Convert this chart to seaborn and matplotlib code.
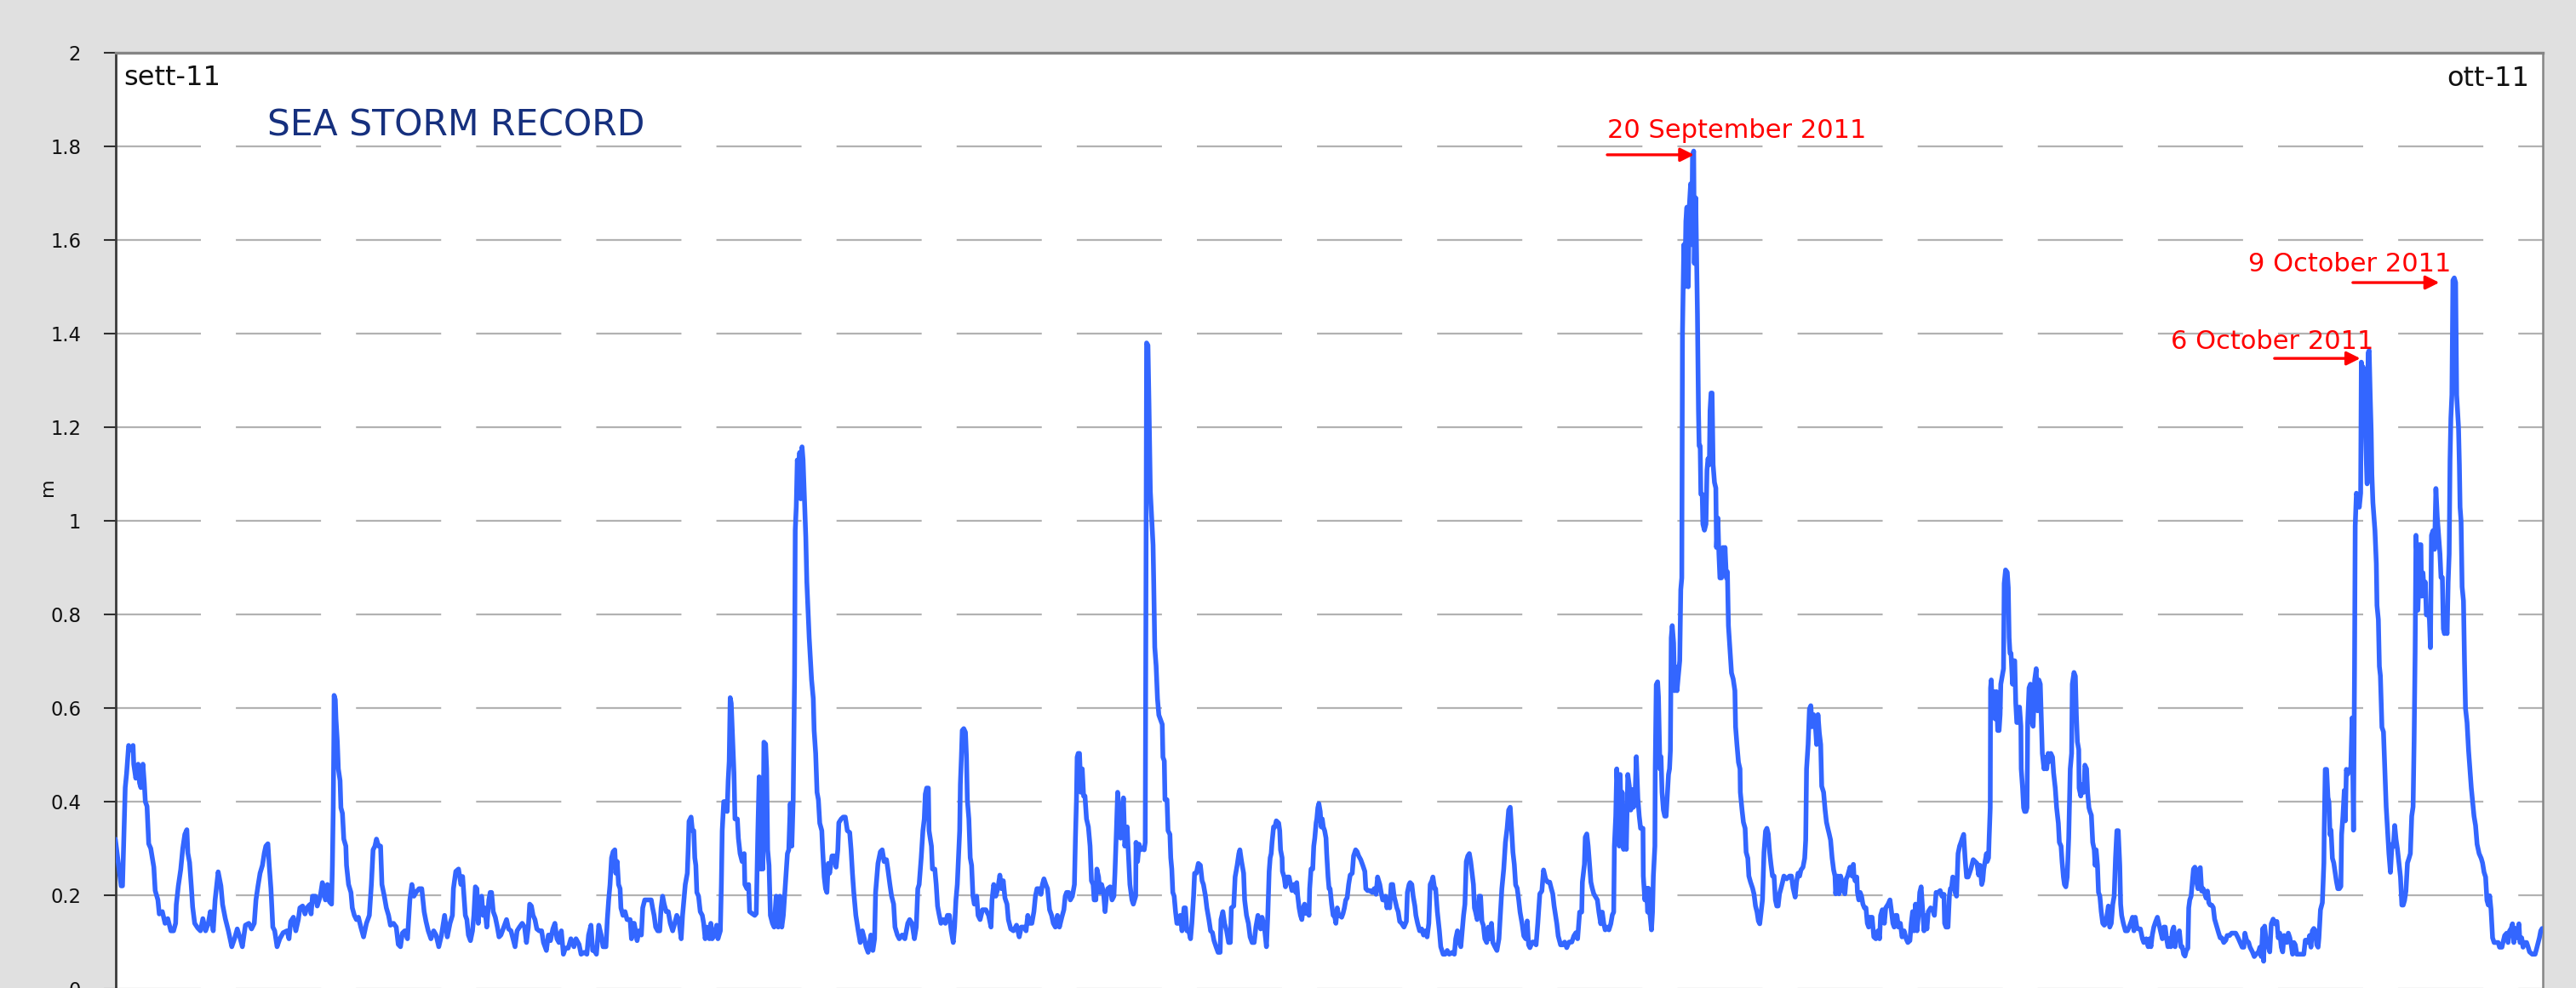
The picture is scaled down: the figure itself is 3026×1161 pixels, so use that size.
import numpy as np
import pandas as pd
import matplotlib
matplotlib.use("Agg")
import matplotlib.pyplot as plt
import seaborn as sns

# ---------------- data: (hours from start of record, sea level in m) ----------------
part1 = [(0.0,0.32),(1.7,0.22),(2.1,0.22),(2.9,0.43),(3.3,0.46),(3.9,0.52),(4.6,0.51),(5.2,0.52),(5.4,0.48),(6.0,0.45),
 (6.7,0.48),(7.1,0.44),(7.5,0.43),(8.1,0.48),(8.5,0.44),(8.8,0.40),(9.3,0.39),(9.8,0.31),(10.4,0.30),(11.3,0.26),
 (11.7,0.21),(12.5,0.19),(12.9,0.16),(13.8,0.165),(14.6,0.14),(15.4,0.15),(16.3,0.124),(17.1,0.124),(17.7,0.14),(17.9,0.18),
 (18.5,0.22),(19.2,0.255),(19.8,0.30),(20.4,0.33),(21.0,0.34),(21.3,0.29),(21.8,0.27),(22.3,0.22),(22.7,0.175),(23.3,0.14),
 (24.2,0.13),(25.0,0.124),(25.7,0.15),(26.5,0.124),(27.3,0.14),(27.9,0.165),(28.75,0.124),(29.3,0.19),(30.2,0.25),(31.0,0.22),
 (31.5,0.18),(32.3,0.15),(33.2,0.124),(34.2,0.09),(35.0,0.107),(35.8,0.128),(36.7,0.107),(37.3,0.09),(38.2,0.136),(39.2,0.14),
 (40.0,0.128),(40.8,0.14),(41.3,0.19),(41.9,0.22),(42.5,0.247),(43.2,0.264),(43.75,0.29),(44.2,0.305),(44.8,0.31),(45.2,0.264),
 (45.7,0.214),(46.25,0.132),(46.8,0.124),(47.5,0.09),(48.3,0.107),(49.3,0.12),(50.4,0.124),(51.0,0.107),(51.5,0.144),(52.3,0.153),
 (53.0,0.124),(53.75,0.148),(54.2,0.173),(55.0,0.177),(55.7,0.16),(56.25,0.173),(57.1,0.18),(57.5,0.16),(57.9,0.198),(58.75,0.198),
 (59.3,0.177),(60.2,0.198),(60.8,0.227),(61.7,0.19),(62.3,0.223),(62.9,0.186),(63.5,0.181),(63.75,0.264),(64.0,0.387),(64.2,0.552),
 (64.25,0.627),(64.6,0.618),(64.8,0.577),(65.2,0.528),(65.5,0.47),(66.0,0.445),(66.25,0.387),(66.7,0.375),(67.1,0.32),(67.7,0.305),
 (67.9,0.264),(68.5,0.223),(69.2,0.206),(69.6,0.173),(70.2,0.157),(70.8,0.148),(71.4,0.153),(72.1,0.132),(72.9,0.111),(73.75,0.14),
 (74.6,0.157),(75.2,0.223),(75.7,0.297),(76.25,0.305),(76.7,0.32),(77.3,0.305),(77.9,0.305),(78.3,0.223),(79.0,0.198),(79.6,0.173),
 (80.25,0.157),(80.8,0.136),(81.7,0.14),(82.5,0.132),(83.1,0.095),(83.75,0.09),(84.3,0.119),(85.0,0.124),(85.8,0.107),(86.5,0.19),
 (87.1,0.223),(87.7,0.198),(88.3,0.206),(89.2,0.214),(90.0,0.214),(90.7,0.165),(91.25,0.144),(91.9,0.124),(92.7,0.107),(93.5,0.124),
 (94.2,0.115),(95.0,0.09),(95.8,0.115),(96.7,0.157),(97.5,0.111),(98.3,0.14),(99.0,0.157),(99.3,0.214),(100.0,0.251),(100.8,0.256),
 (101.5,0.223)]

part2 = [(102.0,0.24),(102.4,0.198),(102.8,0.157),(103.25,0.148),(103.7,0.115),(104.3,0.103),(104.9,0.124),(105.3,0.157),(105.75,0.218),
 (106.2,0.214),(106.6,0.14),(107.0,0.19),(107.6,0.198),(108.0,0.157),(108.5,0.173),(109.1,0.132),(109.7,0.19),(110.1,0.206),(110.5,0.206),
 (111.0,0.165),(111.6,0.153),(112.2,0.132),(112.7,0.111),(113.25,0.115),(114.1,0.132),(114.9,0.148),(115.5,0.128),(116.2,0.124),(116.8,0.107),
 (117.4,0.09),(118.0,0.124),(118.7,0.132),(119.5,0.14),(120.2,0.132),(120.75,0.099),(121.3,0.132),(121.7,0.181),(122.2,0.177),(122.7,0.157),
 (123.25,0.148),(123.8,0.128),(124.5,0.124),(125.2,0.124),(125.75,0.099),(126.6,0.082),(127.2,0.115),(127.8,0.103),(128.5,0.128),(129.1,0.14),
 (129.7,0.107),(130.3,0.099),(131.0,0.124),(131.6,0.074),(132.2,0.087),(133.0,0.087),(133.8,0.107),(134.7,0.09),(135.3,0.107),(136.2,0.095),
 (136.8,0.074),(137.7,0.078),(138.5,0.074),(139.0,0.115),(139.7,0.136),(140.2,0.082),(140.75,0.082),(141.3,0.074),(142.0,0.136),(142.7,0.115),
 (143.25,0.09),(144.1,0.09),(144.5,0.148),(144.9,0.19),(145.3,0.223),(145.75,0.28),(146.2,0.293),(146.7,0.297),(147.0,0.247),(147.4,0.272),
 (147.8,0.223),(148.25,0.214),(148.5,0.173),(149.1,0.157),(149.7,0.165),(150.3,0.148),(151.2,0.148),(151.6,0.107),(152.0,0.14),(152.4,0.14),
 (152.8,0.124),(153.25,0.103),(153.8,0.124),(154.5,0.115),(154.9,0.173),(155.5,0.19),(156.6,0.19),(157.4,0.19),(157.8,0.173),(158.25,0.157),
 (158.7,0.132),(159.3,0.124),(159.9,0.124),(160.3,0.173),(160.75,0.198),(161.2,0.181),(161.8,0.165),(162.4,0.165),(163.0,0.14),(163.7,0.124),
 (164.3,0.14),(164.9,0.157),(165.5,0.148),(166.2,0.107),(166.6,0.157),(167.0,0.19),(167.4,0.223),(168.0,0.247),(168.25,0.297),(168.5,0.358),
 (169.1,0.367),(169.5,0.338),(169.9,0.338),(170.2,0.28),(170.5,0.264),(170.8,0.206),(171.3,0.198),(171.8,0.165),(172.4,0.157),(172.8,0.14),
 (173.25,0.107),(173.8,0.132),(174.5,0.107),(174.9,0.14),(175.3,0.107),(176.0,0.115),(176.6,0.136),(177.0,0.107),(177.7,0.124),(178.0,0.223),
 (178.25,0.338),(178.7,0.40),(179.3,0.40),(179.7,0.379),(180.0,0.445),(180.3,0.486),(180.6,0.622),(180.9,0.61),(181.3,0.536),(181.7,0.462),
 (182.0,0.363),(182.7,0.363),(183.0,0.322),(183.5,0.289),(184.1,0.272),(184.7,0.289),(184.9,0.223),(185.5,0.214),(186.0,0.223),(186.3,0.165),
 (187.0,0.161),(187.8,0.157),(188.25,0.161),(188.7,0.33),(189.1,0.453),(189.5,0.256),(189.9,0.379),(190.2,0.256),(190.5,0.527),(191.0,0.523),
 (191.3,0.47),(191.6,0.297),(192.0,0.264),(192.4,0.157),(193.0,0.14),(193.5,0.132),(194.1,0.198),(194.7,0.132),(195.2,0.198),(195.75,0.132),
 (196.2,0.157),(196.8,0.223),(197.4,0.289),(197.8,0.297),(198.25,0.396),(198.7,0.305),(199.1,0.404),(199.5,0.668),(199.7,0.98),(200.0,1.03),
 (200.3,1.13),(200.75,1.105),(201.0,1.146),(201.3,1.047),(201.7,1.158),(202.0,1.13),(202.4,1.047),(202.8,0.965),(203.1,0.87),(203.8,0.75)]

part3 = [(204.5,0.66),(205.0,0.62),(205.25,0.552),(205.7,0.503),(206.1,0.42),(206.5,0.404),(206.9,0.354),(207.5,0.338),(207.75,0.297),
 (208.2,0.239),(208.6,0.214),(209.0,0.206),(209.4,0.268),(209.8,0.247),(210.5,0.284),(211.1,0.284),(211.7,0.26),(212.2,0.297),(212.5,0.355),
 (213.2,0.363),(213.8,0.367),(214.4,0.367),(215.0,0.338),(215.7,0.334),(216.1,0.297),(216.5,0.247),(216.9,0.206),(217.5,0.157),(218.2,0.124),
 (218.8,0.099),(219.4,0.124),(220.0,0.107),(220.5,0.09),(221.1,0.078),(221.9,0.115),(222.5,0.082),(223.0,0.107),(223.3,0.206),(224.0,0.268),
 (224.7,0.293),(225.25,0.297),(225.8,0.272),(226.5,0.276),(226.9,0.256),(227.5,0.223),(228.0,0.198),(228.6,0.181),(229.0,0.132),(229.7,0.115),
 (230.25,0.107),(231.1,0.115),(231.9,0.107),(232.75,0.14),(233.3,0.148),(234.0,0.14),(234.7,0.107),(235.25,0.132),(235.7,0.214),(236.1,0.223),
 (236.7,0.28),(237.2,0.338),(237.6,0.363),(237.9,0.416),(238.3,0.429),(238.8,0.429),(239.0,0.338),(239.7,0.305),(240.0,0.256),(240.7,0.256),
 (241.1,0.223),(241.5,0.177),(241.9,0.161),(242.5,0.14),(243.2,0.148),(243.8,0.14),(244.4,0.157),(245.0,0.157),(245.5,0.124),(246.1,0.099),
 (246.5,0.132),(246.9,0.19),(247.3,0.223),(247.75,0.297),(248.0,0.338),(248.2,0.437),(248.5,0.495),(248.75,0.552),(249.2,0.556),(249.7,0.548),
 (250.0,0.495),(250.25,0.404),(250.7,0.363),(251.1,0.28),(251.5,0.264),(251.9,0.198),(252.3,0.181),(253.0,0.198),(253.4,0.157),(254.0,0.148),
 (254.7,0.169),(255.7,0.169),(256.5,0.157),(257.2,0.132),(257.5,0.19),(258.0,0.223),(258.6,0.198),(259.2,0.214),(259.8,0.243),(260.3,0.214),
 (260.8,0.231),(261.3,0.194),(261.9,0.181),(262.3,0.148),(263.0,0.128),(263.8,0.124),(264.7,0.136),(265.5,0.111),(266.1,0.132),(266.9,0.132),
 (267.5,0.124),(268.0,0.157),(268.6,0.14),(269.2,0.14),(269.8,0.165),(270.25,0.198),(270.7,0.214),(271.3,0.214),(271.9,0.202),(272.3,0.223),
 (272.75,0.235),(273.3,0.223),(273.8,0.214),(274.4,0.169),(275.0,0.157),(275.5,0.14),(276.1,0.132),(276.7,0.157),(277.3,0.132),(278.0,0.153),
 (278.6,0.169),(279.0,0.198),(279.4,0.206),(280.0,0.206),(280.5,0.19),(281.1,0.198),(281.7,0.223),(282.0,0.322),(282.3,0.404),(282.5,0.495),
 (282.8,0.503),(283.2,0.503),(283.6,0.42),(284.0,0.47),(284.4,0.412),(284.8,0.412),(285.25,0.363),(285.8,0.346),(286.3,0.305),(286.7,0.231),
 (287.2,0.223),(287.5,0.19),(288.0,0.19),(288.3,0.256),(288.8,0.239),(289.2,0.206),(289.7,0.223),(290.25,0.206),(290.7,0.165),(291.1,0.198),
 (291.5,0.214),(292.2,0.218),(292.75,0.19),(293.3,0.198),(293.6,0.247),(294.0,0.33),(294.4,0.42),(294.8,0.379),(295.25,0.322),(295.7,0.371),
 (296.1,0.408),(296.5,0.305),(297.2,0.346),(297.5,0.297),(298.0,0.223),(298.6,0.19),(299.0,0.181),(299.7,0.198),(299.8,0.313),(300.25,0.272),
 (300.7,0.309),(301.1,0.297),(301.7,0.301),(302.2,0.297),(302.5,0.313),(302.7,0.80),(302.9,1.38),(303.3,1.375),(303.6,1.25),(304.0,1.063),
 (304.4,1.005),(304.8,0.948),(305.0,0.866),(305.3,0.73),(305.7,0.69)]

part4 = [(306.1,0.62),(306.5,0.585),(307.0,0.575),(307.5,0.565),(307.7,0.495),(308.1,0.487),(308.3,0.404),(308.9,0.404),(309.2,0.338),
 (309.75,0.33),(310.0,0.28),(310.3,0.256),(310.6,0.206),(311.0,0.198),(311.4,0.165),(311.8,0.14),(312.25,0.14),(312.8,0.157),(313.3,0.124),
 (313.9,0.173),(314.3,0.173),(314.75,0.124),(315.3,0.124),(315.8,0.107),(316.2,0.14),(316.7,0.198),(317.0,0.247),(317.5,0.247),(318.1,0.268),
 (318.7,0.264),(319.2,0.231),(319.6,0.223),(320.2,0.198),(320.6,0.173),(321.2,0.148),(321.7,0.124),(322.25,0.12),(322.7,0.103),(323.3,0.09),
 (323.9,0.078),(324.5,0.078),(324.75,0.148),(325.3,0.165),(325.8,0.14),(326.4,0.124),(327.0,0.099),(327.5,0.099),(327.8,0.173),(328.5,0.177),
 (328.9,0.239),(329.5,0.264),(330.0,0.289),(330.3,0.297),(330.8,0.272),(331.4,0.247),(331.7,0.19),(332.25,0.157),(332.8,0.14),(333.3,0.111),
 (333.9,0.099),(334.5,0.099),(335.0,0.132),(335.6,0.157),(336.0,0.14),(336.4,0.128),(336.8,0.153),(337.5,0.132),(338.1,0.09),(338.5,0.157),
 (338.9,0.251),(339.2,0.28),(339.5,0.289),(339.75,0.313),(340.2,0.346),(340.6,0.346),(341.0,0.359),(341.7,0.354),(342.0,0.338),(342.25,0.297),
 (342.7,0.28),(342.8,0.251),(343.3,0.239),(343.7,0.218),(344.2,0.239),(344.75,0.239),(345.2,0.223),(345.6,0.21),(346.2,0.223),(346.7,0.206),
 (347.0,0.227),(347.3,0.198),(347.7,0.173),(348.1,0.157),(348.5,0.148),(348.9,0.173),(349.3,0.181),(349.75,0.161),(350.2,0.177),(350.6,0.157),
 (350.8,0.214),(351.2,0.256),(351.7,0.256),(352.0,0.305),(352.3,0.322),(352.7,0.355),(352.9,0.363),(353.2,0.387),(353.5,0.396),(353.9,0.379),
 (354.2,0.346),(354.5,0.363),(354.8,0.346),(355.2,0.338),(355.6,0.322),(355.8,0.289),(356.2,0.239),(356.5,0.214),(356.8,0.214),(357.25,0.181),
 (357.7,0.157),(358.1,0.157),(358.5,0.14),(358.9,0.173),(359.3,0.157),(359.75,0.157),(360.2,0.153),(360.6,0.161),(361.0,0.173),(361.4,0.19),
 (361.8,0.194),(362.25,0.223),(362.7,0.243),(363.3,0.247),(363.7,0.284),(364.3,0.297),(364.75,0.293),(365.2,0.284),(365.8,0.276),(366.4,0.264),
 (367.0,0.251),(367.3,0.214),(367.8,0.21),(368.5,0.21),(369.2,0.206),(369.75,0.214),(370.3,0.202),(370.75,0.239),(371.4,0.223),(371.8,0.206),
 (372.25,0.19),(372.7,0.19),(373.1,0.198),(373.5,0.173),(373.9,0.186),(374.3,0.173),(374.75,0.223),(375.2,0.223),(375.6,0.198),(376.0,0.186),
 (376.4,0.173),(376.8,0.165),(377.25,0.144),(377.8,0.14),(378.5,0.132),(379.2,0.144),(379.5,0.206),(380.0,0.223),(380.3,0.227),(380.8,0.223),
 (381.2,0.198),(381.7,0.177),(382.0,0.157),(382.5,0.14),(383.1,0.124),(383.7,0.128),(384.25,0.115),(384.8,0.124),(385.3,0.111),(385.8,0.14),
 (386.2,0.223),(386.7,0.231),(387.0,0.239),(387.5,0.214),(387.8,0.214),(388.3,0.165),(388.9,0.124),(389.3,0.09),(390.0,0.074),(390.6,0.074),
 (391.2,0.082),(391.8,0.074),(392.7,0.078),(393.3,0.074),(393.7,0.107),(394.2,0.124),(394.75,0.099),(395.2,0.09),(395.6,0.124),(396.0,0.157),
 (396.4,0.181),(396.8,0.272),(397.25,0.284),(397.7,0.289),(398.1,0.272),(398.5,0.247),(398.9,0.223),(399.2,0.173),(399.5,0.165),(400.0,0.148),
 (400.3,0.157),(400.6,0.198),(401.0,0.198),(401.4,0.144),(401.8,0.136),(402.25,0.107),(402.8,0.099),(403.3,0.132),(403.75,0.107),(404.2,0.14),
 (404.6,0.099),(405.2,0.09),(405.8,0.082),(406.4,0.107),(406.8,0.157),(407.25,0.214),(407.8,0.256),(408.3,0.313)]

part5 = [(408.8,0.343),(409.25,0.382),(409.7,0.388),(410.1,0.343),(410.5,0.292),(410.9,0.266),(411.3,0.222),(411.75,0.215),(412.2,0.19),
 (412.6,0.164),(413.2,0.139),(413.7,0.113),(414.25,0.107),(414.7,0.145),(415.1,0.094),(415.5,0.088),(416.2,0.10),(416.75,0.10),(417.3,0.094),
 (417.8,0.139),(418.4,0.203),(419.0,0.209),(419.5,0.254),(420.1,0.235),(420.7,0.228),(421.3,0.228),(421.75,0.215),(422.2,0.203),(422.6,0.177),
 (423.0,0.158),(423.4,0.139),(423.8,0.113),(424.5,0.094),(425.1,0.094),(425.7,0.10),(426.3,0.088),(427.0,0.10),(427.8,0.10),(428.4,0.113),
 (429.0,0.12),(429.5,0.107),(430.1,0.164),(430.7,0.164),(430.9,0.228),(431.5,0.266),(431.75,0.324),(432.2,0.331),(432.6,0.305),(433.0,0.266),
 (433.4,0.228),(433.8,0.215),(434.25,0.203),(434.8,0.196),(435.3,0.19),(435.75,0.164),(436.3,0.139),(436.75,0.164),(437.2,0.139),(437.6,0.126),
 (438.2,0.132),(438.7,0.126),(439.25,0.139),(439.7,0.158),(440.1,0.164),(440.3,0.305),(440.7,0.369),(441.0,0.47),(441.3,0.42),(441.75,0.305),
 (442.0,0.458),(442.3,0.356),(442.6,0.42),(443.0,0.298),(443.4,0.369),(443.8,0.298),(444.25,0.458),(444.7,0.433),(445.1,0.382),(445.5,0.426),
 (445.9,0.388),(446.3,0.394),(446.75,0.496),(447.2,0.407),(447.6,0.369),(448.0,0.343),(448.7,0.343),(448.8,0.241),(449.25,0.19),(449.7,0.215),
 (450.1,0.164),(450.3,0.215),(450.7,0.164),(451.2,0.126),(451.5,0.164),(451.75,0.241),(452.2,0.305),(452.3,0.47),(452.6,0.65),(453.0,0.656),
 (453.25,0.624),(453.7,0.47),(454.0,0.496),(454.3,0.42),(454.7,0.382),(455.1,0.369),(455.5,0.369),(455.9,0.42),(456.2,0.458),(456.5,0.47),
 (456.75,0.509),(457.0,0.75),(457.3,0.776),(457.7,0.739),(458.0,0.637),(458.3,0.688),(458.7,0.637),(459.0,0.662),(459.5,0.701),(459.8,0.853),
 (460.1,0.878),(460.3,1.40),(460.7,1.59),(461.0,1.50),(461.3,1.64),(461.6,1.67),(462.0,1.50),(462.3,1.67),(462.7,1.72),(463.0,1.59),
 (463.25,1.78),(463.6,1.79),(463.8,1.55),(464.2,1.69),(464.4,1.59),(464.7,1.44),(465.0,1.235),(465.2,1.16),(465.5,1.16),(465.7,1.057),
 (466.1,1.057),(466.3,0.993),(466.75,0.98),(467.2,0.993),(467.5,1.108),(467.8,1.133),(468.2,1.12),(468.4,1.235),(468.7,1.273),(469.0,1.273),
 (469.3,1.12),(469.7,1.082),(470.1,1.07),(470.3,0.943),(470.7,1.006),(471.0,0.93),(471.3,0.878),(471.75,0.878),(472.2,0.943),(472.6,0.891),
 (472.8,0.943),(473.2,0.878),(473.5,0.891),(473.8,0.776),(474.25,0.726),(474.7,0.675),(475.2,0.662),(475.7,0.637),(475.9,0.56),(476.3,0.522),
 (476.75,0.484),(477.2,0.47),(477.3,0.42),(477.8,0.382),(478.2,0.356),(478.7,0.343),(479.0,0.292),(479.5,0.279),(479.8,0.241),(480.3,0.228),
 (480.9,0.215),(481.3,0.203),(481.75,0.177),(482.2,0.164),(482.6,0.145),(483.0,0.139),(483.4,0.164),(483.8,0.19),(484.25,0.292),(484.7,0.337),
 (485.1,0.343),(485.5,0.331),(485.9,0.292),(486.3,0.266),(486.75,0.241),(487.2,0.241),(487.6,0.19),(488.0,0.177),(488.4,0.177),(488.8,0.203),
 (489.25,0.215),(489.7,0.228),(490.1,0.241),(490.9,0.235),(491.75,0.241),(492.3,0.241),(492.8,0.215),(493.4,0.196),(493.8,0.228),(494.25,0.247),
 (494.7,0.241),(495.1,0.254),(495.7,0.26),(496.2,0.279),(496.5,0.318),(496.75,0.47),(497.2,0.522),(497.6,0.598),(498.0,0.605),(498.4,0.56),
 (498.8,0.586),(499.25,0.573),(499.7,0.522),(500.1,0.586),(500.5,0.547),(500.9,0.522),(501.2,0.433),(501.75,0.42),(502.2,0.382),(502.6,0.356),
 (503.0,0.343),(503.4,0.331),(503.8,0.318),(504.25,0.28),(504.7,0.254),(505.1,0.241),(505.3,0.203),(505.9,0.241),(506.3,0.203),(506.75,0.241),
 (507.2,0.228),(507.6,0.209),(508.0,0.203),(508.4,0.235),(508.8,0.241),(509.5,0.26),(510.1,0.241),(510.5,0.266)]

part6 = [(510.7,0.239),(511.0,0.231),(511.5,0.239),(511.7,0.206),(512.1,0.19),(512.5,0.206),(512.9,0.198),(513.3,0.181),(513.75,0.173),
 (514.2,0.173),(514.6,0.14),(515.0,0.132),(515.4,0.153),(516.0,0.153),(516.5,0.111),(517.1,0.107),(517.7,0.124),(518.2,0.107),(518.5,0.157),
 (519.0,0.169),(519.6,0.14),(520.0,0.173),(520.7,0.181),(521.25,0.19),(521.7,0.165),(522.1,0.14),(522.5,0.132),(522.9,0.157),(523.3,0.157),
 (523.75,0.132),(524.3,0.14),(524.8,0.111),(525.4,0.124),(526.0,0.107),(526.5,0.099),(527.1,0.103),(527.5,0.14),(527.9,0.165),(528.3,0.124),
 (528.75,0.181),(529.2,0.124),(529.6,0.157),(530.0,0.206),(530.4,0.218),(530.8,0.173),(531.25,0.124),(531.7,0.157),(532.1,0.128),(532.5,0.165),
 (533.2,0.173),(533.75,0.169),(534.3,0.157),(534.8,0.206),(535.4,0.206),(536.0,0.21),(536.5,0.198),(537.1,0.202),(537.3,0.14),(537.7,0.132),
 (538.3,0.132),(538.7,0.198),(539.0,0.214),(539.3,0.214),(539.7,0.239),(540.0,0.231),(540.4,0.206),(540.8,0.198),(541.25,0.289),(541.7,0.305),
 (542.1,0.313),(542.5,0.322),(542.9,0.33),(543.3,0.28),(543.75,0.239),(544.2,0.239),(544.6,0.247),(545.0,0.256),(545.7,0.276),(546.25,0.272),
 (546.8,0.268),(547.3,0.243),(547.7,0.264),(548.2,0.223),(548.5,0.231),(548.8,0.256),(549.2,0.272),(549.6,0.289),(549.8,0.272),(550.2,0.28),
 (550.4,0.326),(550.7,0.387),(550.8,0.643),(551.0,0.66),(551.3,0.602),(551.7,0.635),(552.1,0.577),(552.5,0.635),(552.9,0.552),(553.3,0.552),
 (553.6,0.586),(553.8,0.651),(554.2,0.668),(554.6,0.684),(554.8,0.866),(555.2,0.895),(555.7,0.89),(556.0,0.857),(556.25,0.75),(556.5,0.717),
 (556.8,0.717),(557.25,0.651),(557.5,0.701),(557.9,0.701),(558.2,0.61),(558.5,0.569),(558.8,0.569),(559.3,0.602),(559.7,0.561),(559.8,0.47),
 (560.2,0.429),(560.5,0.387),(560.8,0.379),(561.2,0.379),(561.5,0.387),(561.7,0.569),(562.1,0.643),(562.5,0.651),(563.0,0.569),(563.3,0.561),
 (563.75,0.66),(564.2,0.684),(564.6,0.594),(565.0,0.66),(565.4,0.651),(565.7,0.577),(566.0,0.503),(566.5,0.47),(566.8,0.495),(567.3,0.47),
 (567.7,0.503),(568.2,0.486),(568.5,0.503),(569.0,0.495),(569.3,0.462),(569.8,0.429),(570.2,0.387),(570.7,0.354),(571.0,0.313),(571.5,0.305),
 (571.8,0.272),(572.2,0.239),(572.5,0.223),(572.9,0.218),(573.3,0.239),(573.75,0.322),(574.0,0.404),(574.2,0.47),(574.6,0.503),(574.8,0.651),
 (575.3,0.676),(575.7,0.668),(576.0,0.585),(576.3,0.528),(576.7,0.511),(576.8,0.429),(577.3,0.412),(577.7,0.437),(578.2,0.42),(578.5,0.478),
 (579.0,0.47),(579.3,0.42),(579.7,0.387),(580.0,0.379),(580.4,0.371),(580.8,0.313),(581.25,0.297),(581.5,0.264),(581.8,0.297),(582.2,0.264),
 (582.5,0.206),(582.9,0.198),(583.3,0.165),(583.75,0.14),(584.2,0.136),(584.6,0.14),(585.0,0.157),(585.4,0.177),(585.8,0.132),(586.25,0.14),
 (586.7,0.181),(587.1,0.198),(587.5,0.28),(587.9,0.338),(588.3,0.338),(588.75,0.264),(589.0,0.181),(589.3,0.157),(589.8,0.14),(590.4,0.124),
 (591.0,0.124),(591.5,0.132),(592.1,0.144),(592.5,0.153),(592.9,0.124),(593.3,0.153),(593.75,0.132),(594.2,0.128),(594.8,0.128),(595.4,0.107),
 (595.8,0.099),(596.5,0.107),(597.1,0.09),(597.5,0.107),(597.9,0.09),(598.3,0.115),(598.75,0.132),(599.3,0.144),(599.8,0.153),(600.2,0.14),
 (600.7,0.124),(601.25,0.107),(601.7,0.132),(602.1,0.132),(602.5,0.107),(602.9,0.09),(603.3,0.107),(603.75,0.09),(604.2,0.124),(604.6,0.132),
 (605.0,0.09),(605.4,0.115),(605.8,0.115),(606.25,0.124),(606.7,0.09),(607.1,0.09),(607.5,0.074),(607.9,0.07),(608.3,0.082),(608.75,0.087),
 (609.0,0.173),(609.3,0.19),(609.7,0.198),(610.0,0.223),(610.4,0.256),(610.8,0.26),(611.25,0.231),(611.7,0.214),(612.1,0.256)]

part7 = [(612.4,0.259),(612.8,0.209),(613.25,0.214),(613.7,0.204),(614.1,0.194),(614.5,0.209),(614.9,0.184),(615.3,0.179),(615.75,0.179),
 (616.2,0.174),(616.6,0.149),(617.0,0.139),(617.4,0.129),(617.8,0.119),(618.25,0.109),(618.7,0.109),(619.3,0.099),(619.9,0.104),(620.3,0.114),
 (621.0,0.114),(621.6,0.119),(622.2,0.119),(622.8,0.119),(623.5,0.109),(624.1,0.099),(624.7,0.089),(625.2,0.089),(625.5,0.119),(626.0,0.104),
 (626.6,0.099),(627.0,0.089),(627.7,0.079),(628.25,0.069),(628.8,0.074),(629.5,0.079),(629.9,0.089),(630.3,0.069),(630.75,0.129),(631.0,0.059),
 (631.3,0.134),(631.8,0.099),(632.4,0.089),(632.8,0.079),(633.25,0.139),(633.8,0.149),(634.3,0.139),(634.9,0.144),(635.3,0.109),(635.75,0.119),
 (636.2,0.089),(636.6,0.079),(637.0,0.114),(637.4,0.109),(637.8,0.099),(638.25,0.119),(638.7,0.109),(639.1,0.094),(639.5,0.074),(639.9,0.099),
 (640.3,0.094),(640.75,0.074),(641.2,0.074),(642.0,0.074),(642.8,0.074),(643.25,0.104),(643.7,0.104),(644.1,0.099),(644.5,0.114),(644.9,0.089),
 (645.3,0.124),(645.75,0.129),(646.2,0.124),(646.6,0.094),(647.0,0.089),(647.25,0.109),(647.7,0.169),(648.25,0.184),(648.7,0.269),(648.8,0.339),
 (649.1,0.469),(649.5,0.469),(649.9,0.409),(650.2,0.399),(650.5,0.329),(650.8,0.339),(651.2,0.279),(651.6,0.269),(652.0,0.249),(652.4,0.229),
 (652.8,0.214),(653.25,0.214),(653.7,0.219),(653.9,0.329),(654.3,0.369),(654.7,0.424),(655.0,0.359),(655.3,0.469),(655.75,0.459),(656.2,0.469),
 (656.6,0.469),(657.0,0.579),(657.4,0.339),(657.7,0.679),(657.9,0.989),(658.25,1.059),(658.7,1.049),(659.1,1.029),(659.5,1.059),(659.7,1.339),
 (659.9,1.269),(660.2,1.329),(660.5,1.289),(660.75,1.239),(661.2,1.119),(661.4,1.079),(661.7,1.359),(662.0,1.364),(662.3,1.269),(662.6,1.189),
 (662.8,1.099),(663.1,1.039),(663.3,1.019),(663.7,0.979),(664.1,0.909),(664.3,0.819),(664.7,0.789),(665.0,0.689),(665.3,0.669),(665.75,0.559),
 (666.2,0.549),(666.6,0.469),(667.0,0.389),(667.4,0.339),(667.8,0.289),(668.25,0.249),(668.7,0.309),(669.1,0.304),(669.5,0.349),(669.9,0.319),
 (670.3,0.299),(670.75,0.269),(671.2,0.239),(671.6,0.179),(672.0,0.179),(672.4,0.189),(672.8,0.209),(673.25,0.269),(673.7,0.279),(674.1,0.289),
 (674.5,0.369),(674.9,0.389),(675.2,0.529),(675.5,0.719),(675.75,0.969),(676.0,0.929),(676.3,0.809),(676.6,0.869),(676.8,0.949),(677.2,0.949),
 (677.4,0.839),(677.8,0.889),(678.25,0.839),(678.5,0.869),(678.8,0.799),(679.3,0.809),(679.7,0.789),(680.0,0.729),(680.3,0.969),(680.75,0.979),
 (681.2,0.939),(681.6,1.069),(682.0,1.009),(682.4,0.969),(682.8,0.929),(683.1,0.879),(683.5,0.879),(683.8,0.769),(684.1,0.759),(684.5,0.769),
 (684.9,0.759),(685.2,0.869),(685.5,0.929),(685.75,1.129),(686.0,1.219),(686.3,1.269),(686.6,1.514),(687.0,1.519),(687.4,1.509),(687.7,1.269),
 (688.0,1.229),(688.25,1.199),(688.5,1.119),(688.7,1.029),(689.0,0.999),(689.3,0.859),(689.7,0.829),(690.0,0.699),(690.3,0.599),(690.75,0.569),
 (691.2,0.509),(691.6,0.469),(692.0,0.429),(692.4,0.399),(692.8,0.369),(693.25,0.349),(693.7,0.309),(694.3,0.289),(694.9,0.279),(695.3,0.269),
 (695.75,0.249),(696.2,0.239),(696.6,0.189),(697.0,0.179),(697.4,0.199),(697.8,0.169),(698.25,0.109),(698.7,0.099),(699.3,0.099),(699.9,0.099),
 (700.3,0.089),(701.0,0.089),(701.3,0.099),(701.8,0.114),(702.4,0.119),(702.8,0.099),(703.25,0.124),(703.7,0.129),(704.1,0.139),(704.5,0.099),
 (704.9,0.129),(705.3,0.109),(705.75,0.129),(706.0,0.139),(706.3,0.099),(706.8,0.109),(707.2,0.089),(707.7,0.099),(708.25,0.099),(708.7,0.089),
 (709.1,0.079),(709.9,0.074),(710.75,0.074),(711.3,0.089),(712.0,0.109),(712.4,0.124),(712.8,0.129)]

# tick labels and annotations
y_ticks = [0, 0.2, 0.4, 0.6, 0.8, 1.0, 1.2, 1.4, 1.6, 1.8, 2.0]
y_tick_labels = ["0", "0.2", "0.4", "0.6", "0.8", "1", "1.2", "1.4", "1.6", "1.8", "2"]
event_labels = ["20 September 2011", "6 October 2011", "9 October 2011"]
event_peak_hours = [463.7, 659.4, 682.6]
event_arrow_levels = [1.782, 1.347, 1.509]
event_arrow_start = [438.2, 634.2, 657.2]
event_text_hours = [438.2, 663.4, 686.0]
event_text_levels = [1.818, 1.367, 1.533]
event_text_align = ["left", "right", "right"]

title_text = "SEA STORM RECORD"
start_label = "sett-11"
end_label = "ott-11"

# ---------------- build frame ----------------
rows = part1 + part2 + part3 + part4 + part5 + part6 + part7
df = pd.DataFrame(rows, columns=["hour", "level"])

sns.set_theme(style="white")
plt.rcParams["font.family"] = ["DejaVu Sans"]

fig = plt.figure(figsize=(30.26, 11.61), dpi=100, facecolor="#e0e0e0")
ax = fig.add_axes([0.04478, -0.00086, 0.94233, 0.94746])
ax.set_facecolor("white")

sns.lineplot(data=df, x="hour", y="level", estimator=None, sort=False,
             color="#3366ff", linewidth=4.0, ax=ax, zorder=3,
             solid_joinstyle="round", solid_capstyle="round")

ax.set_xlim(0, 713)
ax.set_ylim(0, 2)
ax.set_xticks([])
ax.set_xlabel("")
ax.set_yticks(y_ticks)
ax.set_yticklabels(y_tick_labels)
ax.tick_params(axis="y", which="major", left=True, length=10, width=1.5,
               color="#303030", pad=19, labelsize=16.3, labelcolor="#111111",
               direction="out")
ax.set_ylabel("m", fontsize=16, color="#111111")
ax.yaxis.set_label_coords(-0.0245, 0.536)

ax.grid(axis="y", color="#b2b2b2", linewidth=1.6, linestyle=(0, (45, 18.5)), zorder=0)
ax.grid(axis="x", visible=False)
ax.set_axisbelow(True)

for side in ["top", "right"]:
    ax.spines[side].set_visible(True)
    ax.spines[side].set_color("#858585")
ax.spines["top"].set_linewidth(2.4)
ax.spines["right"].set_linewidth(1.8)
ax.spines["left"].set_color("#3a3a3a")
ax.spines["left"].set_linewidth(2.0)
ax.spines["bottom"].set_visible(False)

# corner month labels and title
ax.text(0.0033, 0.9655, start_label, transform=ax.transAxes, fontsize=23,
        color="#111111", ha="left", va="baseline")
ax.text(0.9946, 0.9645, end_label, transform=ax.transAxes, fontsize=23,
        color="#111111", ha="right", va="baseline")
ax.text(44.6, 1.823, title_text, fontsize=30.6, color="#16307e",
        ha="left", va="baseline")

# event annotations
for lab, px, py, sx, tx, ty, ha in zip(event_labels, event_peak_hours, event_arrow_levels,
                                       event_arrow_start, event_text_hours,
                                       event_text_levels, event_text_align):
    ax.annotate("", xy=(px, py), xytext=(sx, py),
                arrowprops=dict(arrowstyle="-|>", color="#ff0000", lw=2.4,
                                mutation_scale=24, shrinkA=0, shrinkB=0),
                zorder=5)
    ax.text(tx, ty, lab, fontsize=22.0, color="#ff0000", ha=ha, va="baseline", zorder=5)

fig.savefig("out.png", dpi=100, facecolor=fig.get_facecolor())
